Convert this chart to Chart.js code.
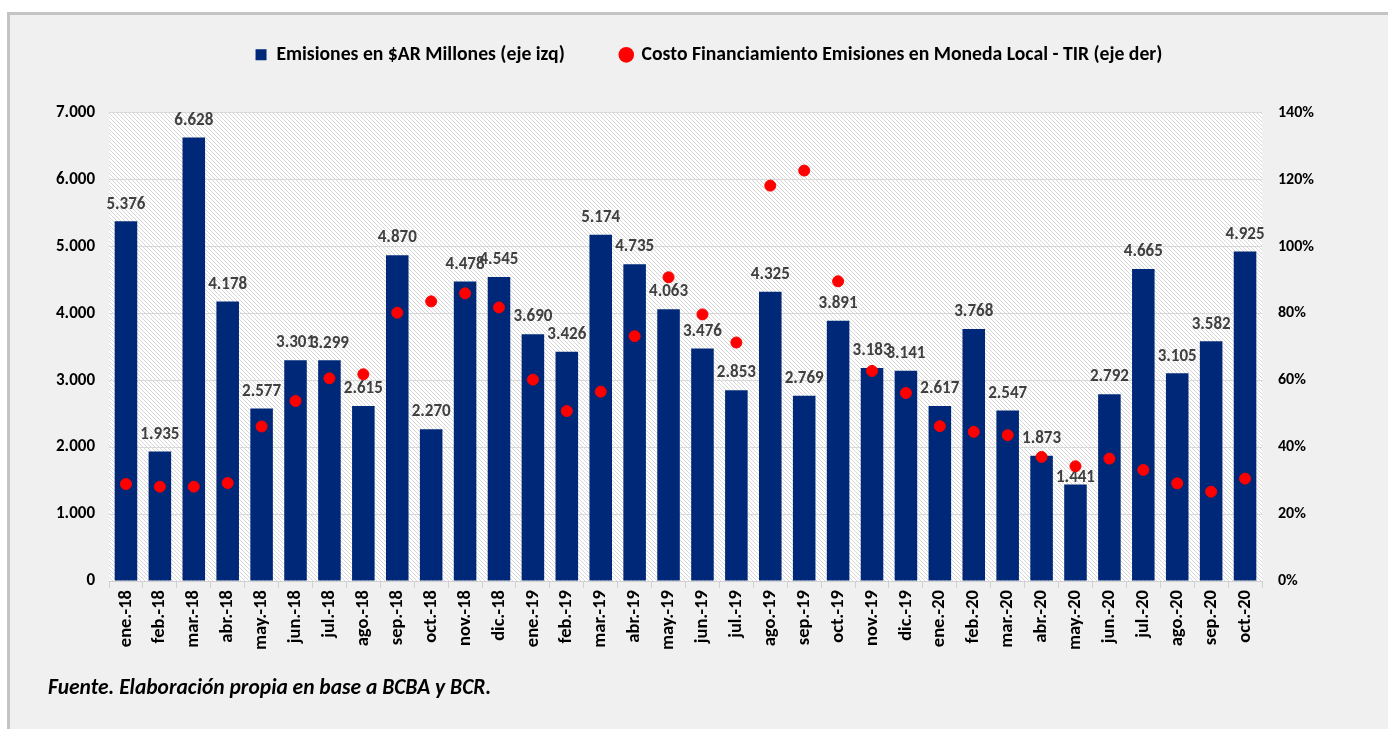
<!DOCTYPE html>
<html>
<head>
<meta charset="utf-8">
<script src="https://cdn.jsdelivr.net/npm/chart.js@4"></script>
<style>
  html, body { margin: 0; padding: 0; background: #ffffff; }
  body { width: 1388px; height: 729px; position: relative; overflow: hidden; }
  #frame {
    position: absolute; left: 7px; top: 12px; right: 0; bottom: 0;
    background: #f0f0f0;
    border-top: 3px solid #c4c4c4; border-left: 3px solid #c4c4c4;
  }
  #wrap { position: absolute; left: 0; top: 0; width: 1388px; height: 729px; }
  #fuente {
    position: absolute; left: 48px; top: 674px;
    font: italic bold 21.5px Carlito, Calibri, Lato, "Open Sans", sans-serif;
    color: #000;
  }
</style>
</head>
<body>
<div id="frame"></div>
<div id="wrap"><canvas id="chartCanvas" width="1388" height="729"></canvas></div>
<div id="fuente">Fuente. Elaboración propia en base a BCBA y BCR.</div>
<script>
// --- data ---
const months = [
  "ene.-18", "feb.-18", "mar.-18", "abr.-18", "may.-18", "jun.-18", "jul.-18", "ago.-18", "sep.-18", "oct.-18", "nov.-18", "dic.-18",
  "ene.-19", "feb.-19", "mar.-19", "abr.-19", "may.-19", "jun.-19", "jul.-19", "ago.-19", "sep.-19", "oct.-19", "nov.-19", "dic.-19",
  "ene.-20", "feb.-20", "mar.-20", "abr.-20", "may.-20", "jun.-20", "jul.-20", "ago.-20", "sep.-20", "oct.-20"
];

// Emisiones en $AR millones (left axis)
const emisiones = [
  5376, 1935, 6628, 4178, 2577, 3301, 3299, 2615, 4870, 2270, 4478, 4545,
  3690, 3426, 5174, 4735, 4063, 3476, 2853, 4325, 2769, 3891, 3183, 3141,
  2617, 3768, 2547, 1873, 1441, 2792, 4665, 3105, 3582, 4925
];

// TIR in % (right axis)
const tir = [
  29.0, 28.2, 28.2, 29.3, 46.2, 53.8, 60.6, 61.8, 80.2, 83.6, 86.0, 81.8,
  60.2, 50.8, 56.6, 73.2, 90.8, 79.7, 71.3, 118.2, 122.7, 89.6, 62.8, 56.2,
  46.3, 44.6, 43.6, 37.1, 34.3, 36.6, 33.2, 29.2, 26.7, 30.6
];

const leftTicks = { min: 0, max: 7000, step: 1000 };
const rightTicks = { min: 0, max: 140, step: 20 };

const seriesNames = [
  "Emisiones en $AR Millones (eje izq)",
  "Costo Financiamiento Emisiones en Moneda Local - TIR (eje der)"
];

const FONT = "Carlito, Calibri, Lato, 'Open Sans', sans-serif";
const BLUE = "#002878";
const RED = "#ff0000";

// one label was nudged down in the original so the dot does not hide it
const labelNudge = { "may.-20": 10 };

function fmtMiles(v) {
  return String(v).replace(/\B(?=(\d{3})+(?!\d))/g, ".");
}

// --- hatched plot background ---
function makeHatch() {
  const s = 4;
  const c = document.createElement("canvas");
  c.width = s; c.height = s;
  const g = c.getContext("2d");
  g.fillStyle = "#ffffff";
  g.fillRect(0, 0, s, s);
  g.strokeStyle = "#d6d6d6";
  g.lineWidth = 1;
  g.beginPath();
  g.moveTo(0, 0); g.lineTo(s, s);
  g.moveTo(-1, s - 1); g.lineTo(1, s + 1);
  g.moveTo(s - 1, -1); g.lineTo(s + 1, 1);
  g.stroke();
  return g.createPattern(c, "repeat");
}

const hatchPlugin = {
  id: "hatch",
  beforeDraw(chart) {
    const { ctx, chartArea: a } = chart;
    ctx.save();
    ctx.fillStyle = makeHatch();
    ctx.fillRect(a.left, a.top, a.right - a.left, a.bottom - a.top);
    ctx.restore();
  }
};

// legend row sits high, plot keeps its top: grow the legend box,
// and centre it on the framed area rather than the whole canvas
const legendGap = {
  id: "legendGap",
  beforeLayout(chart) {
    const lg = chart.legend;
    if (lg && !lg._gapPatched) {
      const fit = lg.fit;
      lg.fit = function () { fit.call(this); this.height += 38; };
      lg._gapPatched = true;
    }
  },
  afterLayout(chart) {
    const lg = chart.legend;
    if (lg) { lg.left += 15; lg.right += 15; }
  }
};

// --- value labels above the bars ---
const barLabels = {
  id: "barLabels",
  afterDatasetDraw(chart, args) {
    if (args.index !== 0) return;
    const { ctx } = chart;
    ctx.save();
    ctx.font = "bold 17px " + FONT;
    ctx.fillStyle = "#404040";
    ctx.textAlign = "center";
    ctx.textBaseline = "middle";
    args.meta.data.forEach((bar, i) => {
      const nudge = labelNudge[months[i]] || 0;
      ctx.fillText(fmtMiles(emisiones[i]), bar.x, bar.y - 17 + nudge);
    });
    ctx.restore();
  }
};

const canvas = document.getElementById("chartCanvas");

new Chart(canvas, {
  data: {
    labels: months,
    datasets: [
      {
        type: "bar",
        label: seriesNames[0],
        data: emisiones,
        backgroundColor: BLUE,
        yAxisID: "y",
        barPercentage: 0.665,
        categoryPercentage: 1,
        order: 1
      },
      {
        type: "scatter",
        label: seriesNames[1],
        data: tir,
        backgroundColor: RED,
        borderColor: RED,
        pointRadius: 5.5,
        pointHoverRadius: 5.5,
        showLine: false,
        yAxisID: "y1",
        order: 0
      }
    ]
  },
  options: {
    responsive: false,
    animation: false,
    layout: { padding: { top: -11, left: 0, right: 0, bottom: 68 } },
    plugins: {
      tooltip: { enabled: false },
      legend: {
        position: "top",
        labels: {
          usePointStyle: true,
          boxWidth: 11,
          boxHeight: 11,
          padding: 56,
          color: "#000",
          font: { family: FONT, size: 19.7, weight: "bold" },
          generateLabels: () => [
            { text: seriesNames[0], fillStyle: BLUE, strokeStyle: BLUE, lineWidth: 0, pointStyle: "rect", datasetIndex: 0 },
            { text: seriesNames[1], fillStyle: RED, strokeStyle: RED, lineWidth: 0, pointStyle: "circle", datasetIndex: 1 }
          ]
        }
      }
    },
    scales: {
      x: {
        type: "category",
        offset: true,
        grid: { offset: true, drawOnChartArea: false, drawTicks: true, tickLength: 7, color: "#d0d0d0" },
        border: { color: "#d0d0d0" },
        ticks: {
          minRotation: 90, maxRotation: 90, autoSkip: false, padding: 2,
          color: "#000", font: { family: FONT, size: 18.5, weight: "bold" }
        },
        afterFit: s => { s.height = 80; }
      },
      y: {
        position: "left",
        min: leftTicks.min, max: leftTicks.max,
        grid: { color: "#d9d9d9", drawTicks: false },
        border: { display: false },
        ticks: {
          stepSize: leftTicks.step, padding: 14,
          color: "#000", font: { family: FONT, size: 17, weight: "bold" },
          callback: v => fmtMiles(v)
        },
        afterFit: s => { s.width = 109; }
      },
      y1: {
        position: "right",
        min: rightTicks.min, max: rightTicks.max,
        grid: { drawOnChartArea: false, drawTicks: false },
        border: { display: false },
        ticks: {
          stepSize: rightTicks.step, padding: 16,
          color: "#000", font: { family: FONT, size: 16, weight: "bold" },
          callback: v => v + "%"
        },
        afterFit: s => { s.width = 126; }
      }
    }
  },
  plugins: [hatchPlugin, legendGap, barLabels]
});
</script>
</body>
</html>
